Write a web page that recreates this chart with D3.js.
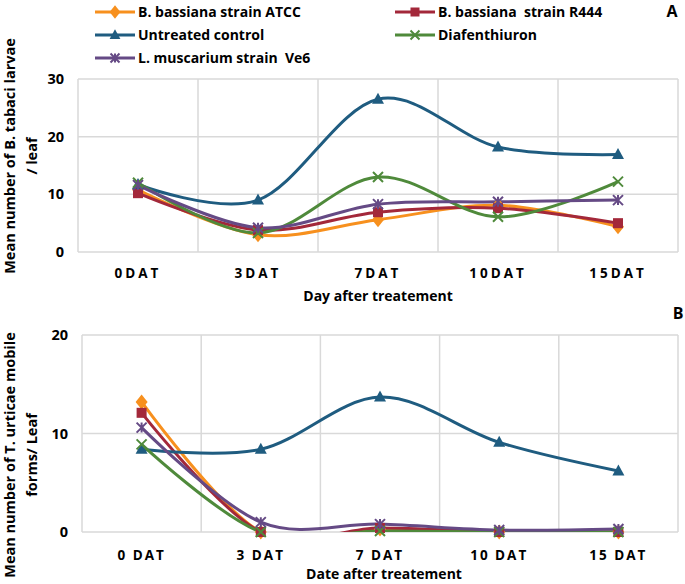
<!DOCTYPE html>
<html><head><meta charset="utf-8">
<script src="https://cdn.jsdelivr.net/npm/d3@7"></script>
<style>
html,body{margin:0;padding:0;background:#fff;}
svg text{font-family:"Open Sans",Lato,sans-serif;font-weight:bold;fill:#000;}
</style></head>
<body><svg id="c" width="685" height="584"></svg>
<script>
// ---- data ----
const seriesNames = ["B. bassiana strain ATCC","B. bassiana  strain R444","Untreated control","Diafenthiuron","L. muscarium strain  Ve6"];
const seriesColors = ["#F7901E","#A3283A","#1F5C80","#4F8A3B","#654A85"];
const seriesMarkers = ["diamond","square","triangle","x","asterisk"];

const catsA = ["0DAT","3DAT","7DAT","10DAT","15DAT"];
const ticksA = [0,10,20,30];
const atccA    = [10.8, 3.0, 5.6, 8.1, 4.4];
const r444A    = [10.2, 3.8, 6.9, 7.6, 5.0];
const controlA = [11.7, 9.0, 26.5, 18.2, 16.9];
const diafA    = [12.0, 3.3, 13.0, 6.1, 12.2];
const ve6A     = [11.6, 4.2, 8.3, 8.7, 9.0];

const catsB = ["0 DAT","3 DAT","7 DAT","10 DAT","15 DAT"];
const ticksB = [0,10,20];
const atccB    = [13.2, 0.0, 0.3, 0.0, 0.0];
const r444B    = [12.1, 0.0, 0.4, 0.0, 0.0];
const controlB = [8.4, 8.4, 13.7, 9.1, 6.2];
const diafB    = [8.9, 0.0, 0.1, 0.0, 0.0];
const ve6B     = [10.6, 1.0, 0.8, 0.2, 0.3];

const svg = d3.select("#c");

function marker(g, type, x, y, color, s){
  if(type==="diamond"){
    g.append("path").attr("d",`M${x},${y-s*0.75}L${x+s*0.6},${y}L${x},${y+s*0.75}L${x-s*0.6},${y}Z`).attr("fill",color);
  } else if(type==="square"){
    g.append("rect").attr("x",x-s/2).attr("y",y-s/2).attr("width",s).attr("height",s).attr("fill",color);
  } else if(type==="triangle"){
    g.append("path").attr("d",`M${x},${y-s*0.65}L${x+s*0.6},${y+s*0.45}L${x-s*0.6},${y+s*0.45}Z`).attr("fill",color);
  } else if(type==="x"){
    const h=s/2;
    g.append("path").attr("d",`M${x-h},${y-h}L${x+h},${y+h}M${x-h},${y+h}L${x+h},${y-h}`).attr("stroke",color).attr("stroke-width",2).attr("fill","none");
  } else if(type==="asterisk"){
    const h=s/2;
    g.append("path").attr("d",`M${x-h},${y-h}L${x+h},${y+h}M${x-h},${y+h}L${x+h},${y-h}M${x},${y-h}L${x},${y+h}`).attr("stroke",color).attr("stroke-width",2).attr("fill","none");
  }
}

function panel(cfg){
  const {x0,x1,y0,y1,max,ticks,cats,data,id,tickY,titleY,titleX,ytitle,ytitleY,letter,letterX,letterY,catSpacing} = cfg;
  const x = d3.scaleBand().domain(cats).range([x0,x1]).padding(0);
  const y = d3.scaleLinear().domain([0,max]).range([y1,y0]);
  const g = svg.append("g");
  // grid
  g.append("g").selectAll("line").data(ticks).join("line")
    .attr("x1",x0).attr("x2",x1).attr("y1",d=>y(d)).attr("y2",d=>y(d))
    .attr("stroke","#D9D9D9").attr("stroke-width",1.5);
  const bounds = cats.map(c=>x(c)).concat([x1]);
  g.append("g").selectAll("line").data(bounds).join("line")
    .attr("x1",d=>d).attr("x2",d=>d).attr("y1",y0).attr("y2",y1)
    .attr("stroke","#D9D9D9").attr("stroke-width",1.5);
  // y tick labels
  g.append("g").selectAll("text").data(ticks).join("text")
    .attr("x",x0-14).attr("y",d=>y(d)).attr("dy","0.35em").attr("text-anchor","end")
    .attr("font-size",14.5).text(d=>d);
  // x tick labels
  g.append("g").selectAll("text").data(cats).join("text")
    .attr("x",d=>x(d)+x.bandwidth()/2).attr("y",tickY).attr("dy","0.35em").attr("text-anchor","middle")
    .attr("font-size",13.5).attr("letter-spacing",catSpacing).text(d=>d);
  // x title
  g.append("text").attr("x",titleX).attr("y",titleY).attr("dy","0.35em").attr("text-anchor","middle")
    .attr("font-size",14).text(cfg.xtitle);
  // y title
  const yt = g.append("text").attr("transform",`translate(0,${ytitleY}) rotate(-90)`).attr("text-anchor","middle").attr("font-size",14.5);
  yt.append("tspan").attr("x",0).attr("y",15).text(ytitle[0]);
  yt.append("tspan").attr("x",0).attr("y",37).text(ytitle[1]);
  g.append("text").attr("x",letterX).attr("y",letterY).attr("dy","0.35em").attr("text-anchor","middle").attr("font-size",16).text(letter);
  // clip
  svg.append("clipPath").attr("id",id).append("rect").attr("x",x0).attr("y",y0-2).attr("width",x1-x0).attr("height",y1-y0+2);
  const line = d3.line().x((d,i)=>x(cats[i])+x.bandwidth()/2).y(d=>y(d)).curve(d3.curveCardinal.tension(0));
  data.forEach((vals,si)=>{
    g.append("path").attr("d",line(vals)).attr("fill","none").attr("stroke",seriesColors[si])
      .attr("stroke-width",3).attr("clip-path",`url(#${id})`);
  });
  data.forEach((vals,si)=>{
    const mg = g.append("g");
    vals.forEach((v,i)=>marker(mg,seriesMarkers[si],x(cats[i])+x.bandwidth()/2,y(v),seriesColors[si],10));
  });
}

panel({x0:78,x1:678,y0:79,y1:252,max:30,ticks:ticksA,cats:catsA,
  data:[atccA,r444A,controlA,diafA,ve6A],id:"clipA",tickY:273,titleY:296,titleX:378,
  xtitle:"Day after treatement",ytitle:["Mean number of B. tabaci larvae","/ leaf"],ytitleY:156,
  letter:"A",letterX:672,letterY:11,catSpacing:3});
panel({x0:82,x1:678,y0:335,y1:532,max:20,ticks:ticksB,cats:catsB,
  data:[atccB,r444B,controlB,diafB,ve6B],id:"clipB",tickY:555,titleY:574,titleX:384,
  xtitle:"Date after treatement",ytitle:["Mean number of T. urticae mobile","forms/ Leaf"],ytitleY:455,
  letter:"B",letterX:678,letterY:313,catSpacing:2});

// legend
const legPos = [[95,12],[395,12],[95,35],[395,35],[95,58]];
seriesNames.forEach((n,i)=>{
  const [lx,ly]=legPos[i];
  const g=svg.append("g");
  g.append("line").attr("x1",lx).attr("x2",lx+40).attr("y1",ly).attr("y2",ly).attr("stroke",seriesColors[i]).attr("stroke-width",3);
  marker(g,seriesMarkers[i],lx+20,ly,seriesColors[i],9);
  g.append("text").attr("x",lx+43).attr("y",ly).attr("dy","0.35em").attr("font-size",14).attr("xml:space","preserve").style("white-space","pre").text(n);
});
</script></body></html>
